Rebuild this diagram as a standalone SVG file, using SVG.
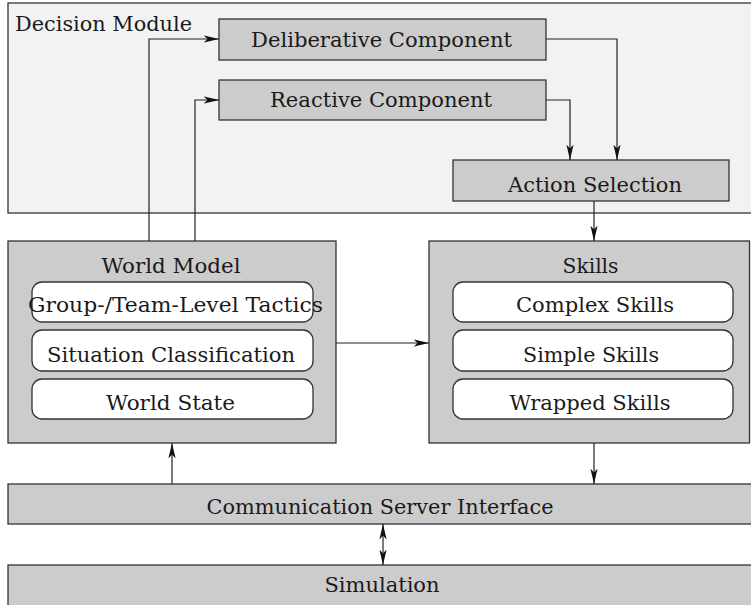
<svg xmlns="http://www.w3.org/2000/svg" width="751" height="605" viewBox="0 0 751 605">
<style>
.box{fill:#cccccc;stroke:#333333;stroke-width:1.3}
.mod{fill:#f2f2f2;stroke:#333333;stroke-width:1.3}
.sub{fill:#ffffff;stroke:#333333;stroke-width:1.3}
text{font-family:"DejaVu Serif",serif;font-size:20px;fill:#1a1a1a;text-anchor:middle}
.c{fill:none;stroke:#222222;stroke-width:1.2}
</style>
<defs>
<marker id="ah" markerUnits="userSpaceOnUse" markerWidth="16" markerHeight="8" refX="15.5" refY="4" orient="auto">
<path d="M0,0.4 L15.5,4 L0,7.6 L4,4 z" fill="#111111"/>
</marker>
<marker id="as" markerUnits="userSpaceOnUse" markerWidth="16" markerHeight="8" refX="0.5" refY="4" orient="auto">
<path d="M16,0.4 L0.5,4 L16,7.6 L12,4 z" fill="#111111"/>
</marker>
</defs>
<g id="decision-module">
<rect class="mod" x="8" y="3" width="760" height="210"/>
<text x="15" y="31" style="text-anchor:start" textLength="177" lengthAdjust="spacingAndGlyphs">Decision Module</text>
</g>
<g id="deliberative">
<rect class="box" x="219" y="19" width="327" height="41"/>
<text x="381.5" y="47" textLength="261" lengthAdjust="spacingAndGlyphs">Deliberative Component</text>
</g>
<g id="reactive">
<rect class="box" x="219" y="80" width="327" height="40"/>
<text x="381" y="107" textLength="222" lengthAdjust="spacingAndGlyphs">Reactive Component</text>
</g>
<g id="action-selection">
<rect class="box" x="453" y="160" width="276" height="41"/>
<text x="595" y="192" textLength="174" lengthAdjust="spacingAndGlyphs">Action Selection</text>
</g>
<g id="world-model">
<rect class="box" x="8" y="241" width="328" height="202"/>
<text x="171" y="273" textLength="139" lengthAdjust="spacingAndGlyphs">World Model</text>
<rect class="sub" x="32" y="282" width="281" height="40" rx="10"/>
<text x="175.5" y="312" textLength="295" lengthAdjust="spacingAndGlyphs">Group-/Team-Level Tactics</text>
<rect class="sub" x="32" y="330" width="281" height="41" rx="10"/>
<text x="171" y="362" textLength="248" lengthAdjust="spacingAndGlyphs">Situation Classification</text>
<rect class="sub" x="32" y="379" width="281" height="40" rx="10"/>
<text x="170.5" y="410" textLength="129" lengthAdjust="spacingAndGlyphs">World State</text>
</g>
<g id="skills">
<rect class="box" x="429" y="241" width="320.5" height="202"/>
<text x="590.5" y="273" textLength="56" lengthAdjust="spacingAndGlyphs">Skills</text>
<rect class="sub" x="453" y="282" width="280" height="40" rx="10"/>
<text x="595" y="312" textLength="158" lengthAdjust="spacingAndGlyphs">Complex Skills</text>
<rect class="sub" x="453" y="330" width="280" height="41" rx="10"/>
<text x="591" y="362" textLength="136" lengthAdjust="spacingAndGlyphs">Simple Skills</text>
<rect class="sub" x="453" y="379" width="280" height="40" rx="10"/>
<text x="590" y="410" textLength="161" lengthAdjust="spacingAndGlyphs">Wrapped Skills</text>
</g>
<g id="comm-server">
<rect class="box" x="8" y="484" width="760" height="40"/>
<text x="380" y="514" textLength="347" lengthAdjust="spacingAndGlyphs">Communication Server Interface</text>
</g>
<g id="simulation">
<rect class="box" x="8" y="565" width="760" height="60"/>
<text x="382" y="592" textLength="115" lengthAdjust="spacingAndGlyphs">Simulation</text>
</g>
<g id="connectors">
<path class="c" d="M149,241 V39 H219" marker-end="url(#ah)"/>
<path class="c" d="M195,241 V100 H219" marker-end="url(#ah)"/>
<path class="c" d="M546,39 H617 V160" marker-end="url(#ah)"/>
<path class="c" d="M546,100 H570 V160" marker-end="url(#ah)"/>
<path class="c" d="M594,201 V241" marker-end="url(#ah)"/>
<path class="c" d="M336,343 H429" marker-end="url(#ah)"/>
<path class="c" d="M172,484 V443" marker-end="url(#ah)"/>
<path class="c" d="M594,443 V484" marker-end="url(#ah)"/>
<path class="c" d="M383,524 V565" marker-start="url(#as)" marker-end="url(#ah)"/>
</g>
</svg>
